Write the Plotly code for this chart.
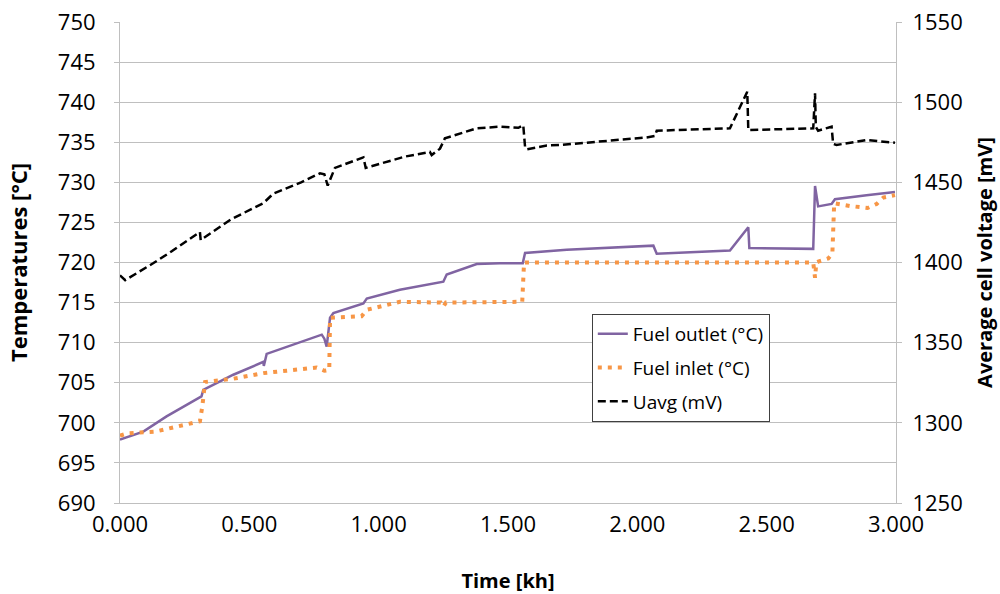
import plotly.graph_objects as go

# Time [kh] and values
uavg_t = [0.000, 0.020, 0.128, 0.200, 0.309, 0.312, 0.430, 0.554, 0.593, 0.700, 0.773, 0.790, 0.803, 0.831,
          0.941, 0.950, 1.100, 1.198, 1.205, 1.237, 1.256, 1.379, 1.469, 1.540, 1.559, 1.566, 1.572, 1.650,
          1.701, 1.855, 2.036, 2.068, 2.075, 2.358, 2.425, 2.429, 2.680, 2.687, 2.690, 2.699, 2.751, 2.757,
          2.770, 2.886, 2.996]
uavg_mv = [1392, 1389, 1399.5, 1407, 1419, 1414, 1427, 1437, 1443, 1450, 1455.6, 1455, 1448, 1459,
           1465.6, 1459, 1466, 1469, 1467, 1471, 1477.4, 1483.7, 1484.7, 1484, 1485.7, 1472, 1470.6, 1473,
           1473.3, 1475.3, 1478, 1478.9, 1482.2, 1483.7, 1506.5, 1482.6, 1483.7, 1505.5, 1484.6, 1482.2, 1484.7, 1474,
           1473.3, 1476.4, 1474.7]

outlet_t = [0.000, 0.090, 0.180, 0.309, 0.315, 0.322, 0.438, 0.554, 0.556, 0.567, 0.696, 0.780, 0.790,
            0.799, 0.812, 0.825, 0.941, 0.954, 1.082, 1.250, 1.263, 1.379, 1.469, 1.557, 1.566, 1.727,
            2.062, 2.075, 2.358, 2.429, 2.433, 2.680, 2.687, 2.699, 2.751, 2.764, 2.886, 2.996]
outlet_c = [697.9, 698.9, 700.8, 703.1, 703.3, 704.1, 706.0, 707.6, 707.1, 708.6, 710.1, 711.0, 710.5,
            709.5, 713.1, 713.7, 714.9, 715.5, 716.6, 717.6, 718.5, 719.8, 719.9, 719.9, 721.2, 721.6,
            722.1, 721.1, 721.5, 724.4, 721.8, 721.7, 729.55, 727.0, 727.3, 727.9, 728.4, 728.8]

inlet_t = [0.000, 0.030, 0.135, 0.245, 0.309, 0.318, 0.329, 0.438, 0.554, 0.644, 0.760, 0.790, 0.809,
           0.812, 0.934, 0.954, 1.018, 1.082, 1.240, 1.250, 1.260, 1.555, 1.562, 2.680, 2.687, 2.692,
           2.699, 2.738, 2.754, 2.761, 2.822, 2.890, 2.925, 2.951, 2.996]
inlet_c = [698.4, 698.7, 698.9, 699.7, 700.2, 702.0, 705.1, 705.5, 706.2, 706.5, 706.9, 706.5, 706.6,
           713.1, 713.3, 714.1, 714.6, 715.1, 715.0, 714.5, 715.0, 715.1, 720.0, 720.0, 718.1, 720.0,
           720.1, 720.5, 721.1, 727.4, 727.05, 726.8, 727.3, 728.1, 728.4]

x_ticks = [0, 0.5, 1.0, 1.5, 2.0, 2.5, 3.0]

FONT = "Open Sans"
grid = "#BFBFBF"

fig = go.Figure()
fig.add_trace(go.Scatter(x=outlet_t, y=outlet_c, name="Fuel outlet (°C)", mode="lines",
                         line=dict(color="#8064A2", width=2.5), legendgroup="a"))
fig.add_trace(go.Scatter(x=inlet_t, y=inlet_c, name="Fuel inlet (°C)", mode="lines",
                         line=dict(color="#F79646", width=4, dash="4px,6px"), legendgroup="b"))
fig.add_trace(go.Scatter(x=uavg_t, y=uavg_mv, name="Uavg (mV)", mode="lines", yaxis="y2",
                         line=dict(color="#000000", width=2.5, dash="8px,4px"), legendgroup="c"))

fig.update_layout(
    width=1000, height=594,
    margin=dict(l=120, r=104, t=22, b=91),
    paper_bgcolor="white", plot_bgcolor="white",
    font=dict(family=FONT, color="#000000", size=21),
    showlegend=True,
    legend=dict(x=0.608, y=0.393, xanchor="left", yanchor="top",
                bordercolor="#404040", borderwidth=1, bgcolor="white",
                font=dict(size=19, family=FONT), tracegroupgap=6,
                itemwidth=30),
    xaxis=dict(range=[0, 3], tickvals=x_ticks, tickformat=".3f", showgrid=False,
               showline=True, linecolor=grid, linewidth=1, zeroline=False, ticks="",
               ticklabelstandoff=2, automargin=False,
               title=dict(text="<b>Time [kh]</b>", font=dict(size=20), standoff=36),
               tickfont=dict(size=22)),
    yaxis=dict(range=[690, 750], dtick=5, showgrid=True, gridcolor=grid, gridwidth=1,
               showline=True, linecolor=grid, linewidth=1, zeroline=False,
               ticks="outside", ticklen=5, tickcolor=grid, ticklabelstandoff=14, automargin=False,
               title=dict(text="<b>Temperatures [°C]</b>", font=dict(size=22), standoff=24),
               tickfont=dict(size=22)),
    yaxis2=dict(range=[1250, 1550], dtick=50, overlaying="y", side="right", showgrid=False,
                showline=True, linecolor=grid, linewidth=1, zeroline=False, automargin=False,
                ticks="outside", ticklen=5, tickcolor=grid, ticklabelstandoff=6,
                title=dict(text="<b>Average cell voltage [mV]</b>", font=dict(size=20), standoff=16),
                tickfont=dict(size=22)),
)

fig.write_html("out.html")
